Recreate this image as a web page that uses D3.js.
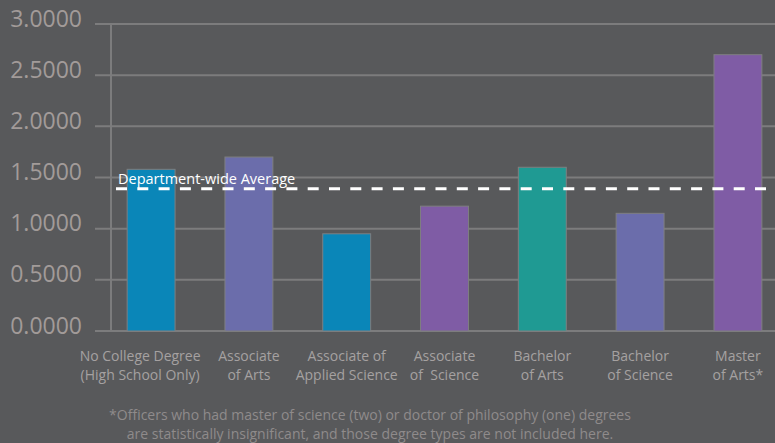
<!DOCTYPE html>
<html>
<head>
<meta charset="utf-8">
<script src="https://cdn.jsdelivr.net/npm/d3@7"></script>
<style>
  html, body { margin: 0; padding: 0; background: #58595b; }
  svg { display: block; }
  text { font-family: "Open Sans", sans-serif; }
</style>
</head>
<body>
<svg id="chart" width="775" height="443"></svg>
<script>
// Degree categories (two-line labels) and the value for each bar
const categories = [
  ["No College Degree", "(High School Only)"],
  ["Associate", "of Arts"],
  ["Associate of", "Applied Science"],
  ["Associate", "of  Science"],
  ["Bachelor", "of Arts"],
  ["Bachelor", "of Science"],
  ["Master", "of Arts*"]
];
const values = [1.58, 1.70, 0.95, 1.22, 1.60, 1.15, 2.70];
const barColors = ["#0a86b8", "#6b6dab", "#0a86b8", "#7f5ca5", "#1f9a93", "#6b6dab", "#7f5ca5"];
const departmentAverage = 1.39;
const yTicks = [0, 0.5, 1, 1.5, 2, 2.5, 3];
const footnote = [
  "*Officers who had master of science (two) or doctor of philosophy (one) degrees",
  "are statistically insignificant, and those degree types are not included here."
];

const svg = d3.select("#chart");
const W = 775;

const y = d3.scaleLinear().domain([0, 3]).range([331, 24]);
const x = d3.scaleBand()
  .domain(d3.range(categories.length))
  .range([111, 778])
  .paddingInner(0.51)
  .paddingOuter(0.165);

// Horizontal gridlines
svg.append("g").selectAll("line")
  .data(yTicks)
  .join("line")
  .attr("x1", 95).attr("x2", W)
  .attr("y1", d => y(d)).attr("y2", d => y(d))
  .attr("stroke", "#7c7c7d").attr("stroke-width", 2);

// Vertical axis line
svg.append("line")
  .attr("x1", 111).attr("x2", 111)
  .attr("y1", y(3)).attr("y2", y(0))
  .attr("stroke", "#7c7c7d").attr("stroke-width", 2);

// Y tick labels
svg.append("g").selectAll("text")
  .data(yTicks)
  .join("text")
  .attr("x", 82)
  .attr("y", d => y(d) + 2.5)
  .attr("text-anchor", "end")
  .attr("font-size", 23)
  .attr("fill", "#a29b99")
  .text(d => d.toFixed(4));

// Bars
svg.append("g").selectAll("rect")
  .data(values)
  .join("rect")
  .attr("x", (d, i) => x(i))
  .attr("width", x.bandwidth())
  .attr("y", d => y(d))
  .attr("height", d => y(0) - y(d))
  .attr("fill", (d, i) => barColors[i])
  .attr("stroke", "#7f7f80")
  .attr("stroke-width", 1);

// Category labels (the first, widest label sits a little left of its bar)
const catG = svg.append("g");
categories.forEach((lines, i) => {
  const cx = x(i) + x.bandwidth() / 2 + (i === 0 ? -11 : 0);
  const t = catG.append("text")
    .attr("x", cx)
    .attr("y", 361)
    .attr("text-anchor", "middle")
    .attr("font-size", 14)
    .attr("fill", "#a5a1a1");
  lines.forEach((l, j) => {
    t.append("tspan")
      .attr("x", cx)
      .attr("dy", j === 0 ? 0 : 19)
      .attr("xml:space", "preserve")
      .text(l);
  });
});

// Department-wide average line and label
svg.append("line")
  .attr("x1", 116).attr("x2", W)
  .attr("y1", y(departmentAverage)).attr("y2", y(departmentAverage))
  .attr("stroke", "#ffffff").attr("stroke-width", 3)
  .attr("stroke-dasharray", "11 10.3");

svg.append("text")
  .attr("x", 118)
  .attr("y", y(departmentAverage) - 5)
  .attr("font-size", 14.5)
  .attr("fill", "#ffffff")
  .text("Department-wide Average");

// Footnote
svg.append("g").selectAll("text")
  .data(footnote)
  .join("text")
  .attr("x", 370)
  .attr("y", (d, i) => 420 + i * 19)
  .attr("text-anchor", "middle")
  .attr("font-size", 14)
  .attr("fill", "#8f8b8b")
  .text(d => d);
</script>
</body>
</html>
